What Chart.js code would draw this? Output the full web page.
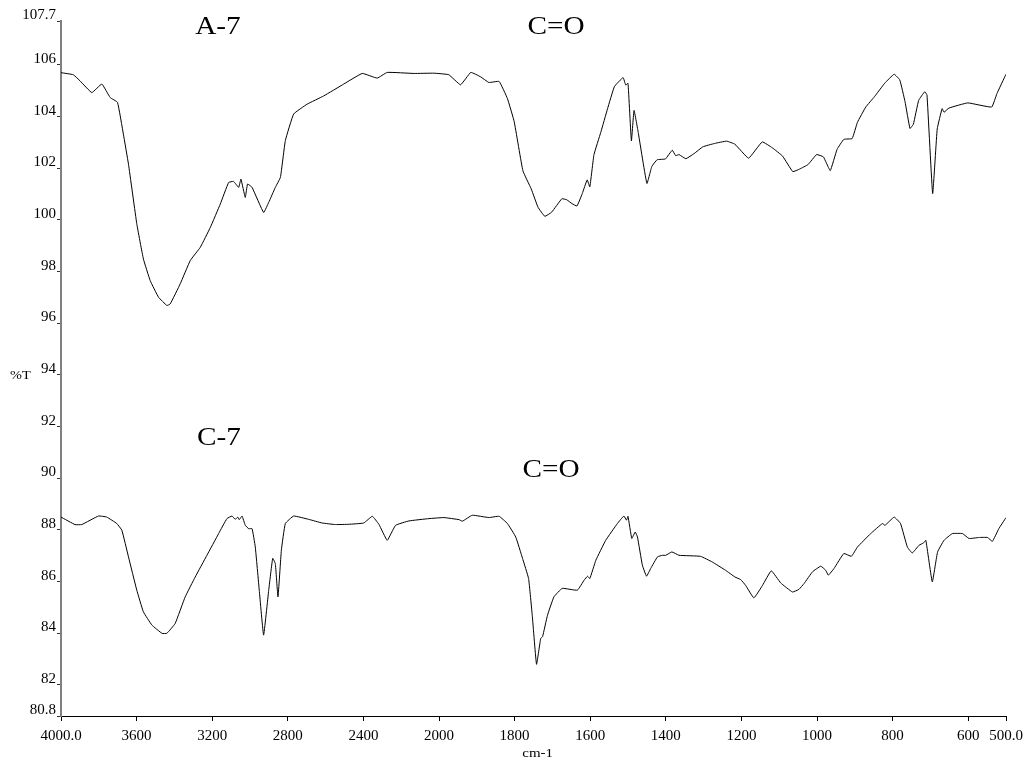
<!DOCTYPE html>
<html>
<head>
<meta charset="utf-8">
<script src="https://cdn.jsdelivr.net/npm/chart.js@4.4.1/dist/chart.umd.min.js"></script>
<style>
  html, body { margin: 0; padding: 0; background: #fff; }
</style>
</head>
<body>
<canvas id="ir" width="1033" height="759"></canvas>
<script>
// A-7 spectrum: wavenumber (cm-1) and %T
const waveA = [4000, 3935, 3899, 3837, 3784, 3740, 3701, 3670, 3643, 3599, 3564, 3528, 3484, 3440, 3422,
  3369, 3316, 3263, 3210, 3157, 3113, 3087, 3060, 3048, 3025, 3013, 2989, 2928, 2901, 2866, 2839, 2813,
  2769, 2698, 2610, 2504, 2406, 2327, 2274, 2133, 2027, 1974, 1943, 1916, 1890, 1868, 1841, 1819, 1801,
  1778, 1756, 1738, 1720, 1702, 1675, 1662, 1648, 1635, 1621, 1608, 1601, 1590, 1572, 1554, 1536, 1513,
  1506, 1500, 1491, 1484, 1473, 1450, 1437, 1423, 1401, 1383, 1374, 1365, 1347, 1325, 1302, 1271, 1239,
  1217, 1181, 1145, 1118, 1091, 1064, 1046, 1024, 1001, 983, 965, 947, 929, 907, 893, 871, 848, 821,
  796, 781, 767, 754, 745, 731, 715, 709, 694, 682, 669, 664, 651, 601, 538, 524, 500];
const transA = [105.7, 105.62, 105.38, 104.93, 105.26, 104.74, 104.55, 103.32, 102.16, 99.85, 98.49, 97.65,
  97.01, 96.69, 96.75, 97.53, 98.43, 98.94, 99.71, 100.62, 101.45, 101.49, 101.26, 101.58, 100.87, 101.39,
  101.26, 100.29, 100.68, 101.26, 101.65, 103.07, 104.1, 104.48, 104.8, 105.26, 105.67, 105.49, 105.71,
  105.67, 105.68, 105.62, 105.23, 105.71, 105.54, 105.32, 105.36, 104.7, 103.8, 101.9, 101.2, 100.49,
  100.14, 100.3, 100.82, 100.78, 100.63, 100.54, 101.02, 101.55, 101.28, 102.53, 103.39, 104.31, 105.16,
  105.51, 105.22, 105.29, 103.06, 104.24, 103.39, 101.41, 102.07, 102.33, 102.36, 102.7, 102.49, 102.53,
  102.37, 102.57, 102.83, 102.96, 103.05, 102.93, 102.39, 103.02, 102.79, 102.47, 101.87, 101.97, 102.14,
  102.53, 102.44, 101.91, 102.73, 103.12, 103.15, 103.78, 104.37, 104.77, 105.29, 105.64, 105.42, 104.57,
  103.54, 103.71, 104.63, 104.96, 104.83, 101.02, 103.52, 104.31, 104.17, 104.33, 104.53, 104.37, 104.89,
  105.64];

// C-7 spectrum
const waveC = [4000, 3926, 3890, 3802, 3758, 3705, 3678, 3643, 3599, 3564, 3519, 3466, 3440, 3396, 3343,
  3290, 3228, 3166, 3122, 3095, 3078, 3065, 3057, 3042, 3025, 3007, 2989, 2972, 2951, 2928, 2901, 2880,
  2866, 2852, 2834, 2813, 2769, 2689, 2618, 2548, 2477, 2398, 2353, 2318, 2274, 2230, 2159, 2053, 1987,
  1947, 1938, 1912, 1868, 1841, 1819, 1797, 1779, 1763, 1753, 1742, 1731, 1726, 1713, 1696, 1674, 1634,
  1616, 1607, 1601, 1585, 1559, 1528, 1511, 1504, 1500, 1490, 1481, 1475, 1462, 1451, 1440, 1422, 1409,
  1400, 1384, 1365, 1308, 1277, 1242, 1217, 1202, 1189, 1167, 1144, 1121, 1096, 1065, 1048, 1034, 1012,
  990, 977, 970, 955, 929, 909, 893, 858, 827, 820, 796, 779, 761, 748, 730, 718, 712, 695, 681, 664,
  642, 615, 598, 571, 549, 536, 519, 500];
const transC = [88.5, 88.21, 88.21, 88.54, 88.5, 88.25, 87.99, 86.96, 85.67, 84.83, 84.32, 84.0, 84.0, 84.38,
  85.41, 86.18, 87.02, 87.86, 88.44, 88.54, 88.41, 88.5, 88.4, 88.54, 88.18, 88.05, 88.05, 87.34, 85.67,
  83.93, 85.67, 86.9, 86.7, 85.41, 87.22, 88.25, 88.54, 88.41, 88.27, 88.21, 88.22, 88.27, 88.53, 88.22,
  87.6, 88.18, 88.35, 88.44, 88.48, 88.4, 88.34, 88.57, 88.48, 88.53, 88.25, 87.73, 86.9, 86.12, 84.64,
  82.8, 83.8, 83.87, 84.7, 85.41, 85.74, 85.67, 86.06, 86.21, 86.12, 86.83, 87.6, 88.25, 88.54, 88.38,
  88.53, 87.67, 87.92, 87.73, 86.64, 86.21, 86.51, 86.96, 87.02, 87.02, 87.15, 87.02, 86.98, 86.76, 86.44,
  86.18, 86.08, 85.86, 85.37, 85.86, 86.42, 85.95, 85.6, 85.7, 85.93, 86.38, 86.6, 86.44, 86.25, 86.51,
  87.09, 86.98, 87.34, 87.86, 88.25, 88.18, 88.5, 88.25, 87.34, 87.11, 87.41, 87.5, 87.6, 85.99, 87.15,
  87.6, 87.86, 87.86, 87.67, 87.71, 87.71, 87.56, 88.05, 88.48];

const xTicks = [4000, 3600, 3200, 2800, 2400, 2000, 1800, 1600, 1400, 1200, 1000, 800, 600, 500];
const yTicks = [80.8, 82, 84, 86, 88, 90, 92, 94, 96, 98, 100, 102, 104, 106, 107.7];

const noteText = ['A-7', 'C=O', 'C-7', 'C=O'];
const noteWave = [3290, 1766, 3281, 1779];
const noteTrans = [107.2, 107.2, 91.28, 90.05];

const serif = '"Liberation Serif", "Times New Roman", serif';

// IR convention: the part below 2000 cm-1 is drawn at twice the scale
const HI = 4000, BRK = 2000, LO = 500;
const SPAN = (HI - BRK) + 2 * (BRK - LO);

class WaveScale extends Chart.LinearScale {
  getPixelForValue(v) {
    const f = v >= BRK ? (HI - v) : (HI - BRK) + 2 * (BRK - v);
    return this.left + f / SPAN * this.width;
  }
  getValueForPixel(p) {
    const f = (p - this.left) / this.width * SPAN;
    return f <= HI - BRK ? HI - f : BRK - (f - (HI - BRK)) / 2;
  }
}
WaveScale.id = 'wave';
WaveScale.defaults = {};
Chart.register(WaveScale);

const notes = {
  id: 'notes',
  afterDraw(chart) {
    const { ctx } = chart;
    const x = chart.scales.x, y = chart.scales.y;
    ctx.save();
    ctx.fillStyle = '#000';
    ctx.textBaseline = 'alphabetic';
    ctx.textAlign = 'left';
    ctx.font = '25px ' + serif;
    noteText.forEach((t, i) => {
      ctx.save();
      ctx.translate(x.getPixelForValue(noteWave[i]), y.getPixelForValue(noteTrans[i]));
      ctx.scale(1.17, 1);
      ctx.fillText(t, 0, 0);
      ctx.restore();
    });
    // axis names
    ctx.font = '13px ' + serif;
    ctx.save();
    ctx.translate(10, y.getPixelForValue(94) + 4);
    ctx.scale(1.1, 1);
    ctx.fillText('%T', 0, 0);
    ctx.restore();
    ctx.save();
    ctx.textAlign = 'center';
    ctx.translate(x.getPixelForValue(1739), x.bottom - 2);
    ctx.scale(1.15, 1);
    ctx.fillText('cm-1', 0, 0);
    ctx.restore();
    ctx.restore();
  }
};

const line = (w, t) => ({
  data: w.map((v, i) => ({ x: v, y: t[i] })),
  borderColor: '#000',
  borderWidth: 1,
  pointRadius: 0,
  tension: 0.1,
  fill: false
});

new Chart(document.getElementById('ir'), {
  type: 'line',
  data: { datasets: [line(waveA, transA), line(waveC, transC)] },
  options: {
    responsive: false,
    animation: false,
    devicePixelRatio: 1,
    layout: { padding: { top: 21, right: 27, left: 0, bottom: 0 } },
    plugins: { legend: { display: false }, tooltip: { enabled: false } },
    scales: {
      x: {
        type: 'wave',
        min: LO,
        max: HI,
        afterBuildTicks: s => { s.ticks = xTicks.map(v => ({ value: v })); },
        afterFit: s => { s.height = 43; },
        grid: { drawOnChartArea: false, drawTicks: true, tickLength: 5, color: '#000' },
        border: { color: '#000', width: 1 },
        ticks: {
          autoSkip: false,
          maxRotation: 0,
          padding: 6,
          color: '#000',
          font: { family: serif, size: 15 },
          callback: v => (v === HI || v === LO) ? v.toFixed(1) : String(v)
        }
      },
      y: {
        min: 80.8,
        max: 107.7,
        afterBuildTicks: s => { s.ticks = yTicks.map(v => ({ value: v })); },
        afterFit: s => { s.width = 61; },
        grid: { drawOnChartArea: false, drawTicks: true, tickLength: 4, color: '#333' },
        border: { color: '#808080', width: 2 },
        ticks: {
          padding: 1,
          labelOffset: -6,
          color: '#000',
          font: { family: serif, size: 15 },
          callback: v => Number.isInteger(v) ? String(v) : v.toFixed(1)
        }
      }
    }
  },
  plugins: [notes]
});
</script>
</body>
</html>
